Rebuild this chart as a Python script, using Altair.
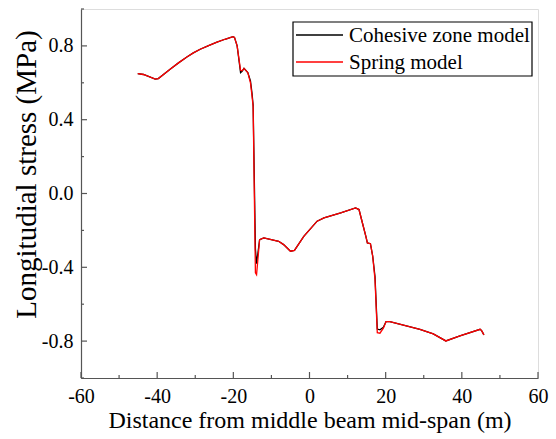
import altair as alt
import pandas as pd

# Distance from middle beam mid-span (m)
x_vals = [-45.1, -43.6, -40.5, -39.7, -36.6, -34.4, -32.2, -30.5, -28.7, -26.5,
          -24.3, -22.2, -20.1, -19.7,
          -19.0, -18.1, -17.7, -17.2, -16.2, -15.5, -15.1, -14.8, -14.2, -13.9,
          -13.1, -12.0, -8.1, -6.8, -5.0, -3.95, -1.5, 2.0, 3.8, 8.2,
          12.1, 13.0, 13.9, 14.8, 15.2, 16.0, 16.6, 17.2, 17.8, 18.5,
          19.4, 20.1, 21.1, 29.0, 32.5, 35.8, 39.5, 44.8, 45.2, 45.8]

# Longitudinal stress (MPa)
cohesive = [0.650, 0.645, 0.620, 0.623, 0.674, 0.708, 0.740, 0.762, 0.782, 0.802,
            0.820, 0.836, 0.850, 0.846,
            0.800, 0.655, 0.662, 0.678, 0.656, 0.610, 0.545, 0.480, -0.300, -0.380,
            -0.250, -0.241, -0.259, -0.277, -0.313, -0.308, -0.232, -0.150, -0.132, -0.105,
            -0.078, -0.087, -0.160, -0.232, -0.268, -0.272, -0.340, -0.450, -0.735, -0.739,
            -0.725, -0.694, -0.694, -0.736, -0.761, -0.799, -0.772, -0.736, -0.743, -0.766]

spring = [0.650, 0.645, 0.620, 0.623, 0.674, 0.708, 0.740, 0.762, 0.782, 0.802,
          0.820, 0.836, 0.850, 0.846,
          0.800, 0.668, 0.665, 0.678, 0.656, 0.600, 0.530, 0.470, -0.430, -0.440,
          -0.250, -0.241, -0.259, -0.277, -0.313, -0.308, -0.232, -0.150, -0.132, -0.105,
          -0.078, -0.087, -0.160, -0.232, -0.268, -0.272, -0.340, -0.467, -0.754, -0.757,
          -0.730, -0.694, -0.694, -0.736, -0.761, -0.799, -0.772, -0.736, -0.743, -0.766]

series_names = ["Cohesive zone model", "Spring model"]
series_colors = ["#000000", "#FF0000"]

x_major = [-60, -40, -20, 0, 20, 40, 60]
x_minor = [-50, -30, -10, 10, 30, 50]
y_major = [-0.8, -0.4, 0.0, 0.4, 0.8]
y_minor = [-1.0, -0.6, -0.2, 0.2, 0.6, 1.0]

rows = []
for i, xv in enumerate(x_vals):
    rows.append({"x": xv, "y": cohesive[i], "model": series_names[0], "order": i})
    rows.append({"x": xv, "y": spring[i], "model": series_names[1], "order": i})
df = pd.DataFrame(rows)

FONT = "Liberation Serif"
AXC = "#555555"

x_scale = alt.Scale(domain=[-60, 60], nice=False, zero=False)
y_scale = alt.Scale(domain=[-1.0, 1.0], nice=False, zero=False)

x_label_expr = "datum.value < 0 ? '-' + format(-datum.value, 'd') : format(datum.value, 'd')"
y_label_expr = "datum.value < -0.0001 ? '-' + format(-datum.value, '.1f') : format(abs(datum.value), '.1f')"

lines = alt.Chart(df).mark_line(strokeWidth=1.3, interpolate="linear").encode(
    x=alt.X("x:Q", scale=x_scale,
            axis=alt.Axis(title="Distance from middle beam mid-span (m)", values=x_major,
                          labelExpr=x_label_expr, tickSize=0, domainColor=AXC, domainWidth=1.2,
                          labelFont=FONT, labelFontSize=20, labelColor="#000000",
                          labelFlush=False, labelOverlap=False,
                          labelPadding=8, titleFont=FONT, titleFontSize=24,
                          titleFontWeight="normal", titleColor="#000000", titlePadding=2,
                          grid=False)),
    y=alt.Y("y:Q", scale=y_scale,
            axis=alt.Axis(title="Longitudial stress (MPa)", values=y_major,
                          labelExpr=y_label_expr, labelFlush=False, labelOverlap=False,
                          tickSize=0, domainColor=AXC, domainWidth=1.2,
                          labelFont=FONT, labelFontSize=20, labelColor="#000000",
                          labelPadding=8, titleFont=FONT, titleFontSize=29,
                          titleFontWeight="normal", titleColor="#000000",
                          titleX=-55, titleY=165, titleAngle=-90, titleAlign="center",
                          titleBaseline="middle", grid=False)),
    color=alt.Color("model:N", scale=alt.Scale(domain=series_names, range=series_colors),
                    legend=None),
    order="order:Q",
    detail="model:N",
)

# inward tick marks, placed through the scales
rule_style = dict(color=AXC, strokeWidth=1.2)
xt_major = alt.Chart(pd.DataFrame({"t": x_major})).mark_rule(**rule_style).encode(
    x=alt.X("t:Q", scale=x_scale), y=alt.value(369), y2=alt.value(363))
xt_minor = alt.Chart(pd.DataFrame({"t": x_minor})).mark_rule(**rule_style).encode(
    x=alt.X("t:Q", scale=x_scale), y=alt.value(369), y2=alt.value(366))
yt_major = alt.Chart(pd.DataFrame({"t": y_major})).mark_rule(**rule_style).encode(
    y=alt.Y("t:Q", scale=y_scale), x=alt.value(0), x2=alt.value(6))
yt_minor = alt.Chart(pd.DataFrame({"t": y_minor})).mark_rule(**rule_style).encode(
    y=alt.Y("t:Q", scale=y_scale), x=alt.value(0), x2=alt.value(3))

# legend box
box = alt.Chart(pd.DataFrame({"a": [0]})).mark_rect(
    fill="white", stroke="#000000", strokeWidth=1.2).encode(
    x=alt.value(212), x2=alt.value(451), y=alt.value(13), y2=alt.value(67))
legend_layers = [box]
for i, name in enumerate(series_names):
    ly = 26 + 27 * i
    d = pd.DataFrame({"model": [name]})
    legend_layers.append(
        alt.Chart(d).mark_rule(color=series_colors[i], strokeWidth=1.5).encode(
            x=alt.value(215), x2=alt.value(262), y=alt.value(ly)))
    legend_layers.append(
        alt.Chart(d).mark_text(font=FONT, fontSize=21, align="left", baseline="middle",
                               color="#000000").encode(
            x=alt.value(268), y=alt.value(ly + 1), text="model:N"))

chart = alt.layer(lines, xt_major, xt_minor, yt_major, yt_minor, *legend_layers).properties(
    width=457, height=369,
    autosize=alt.AutoSizeParams(type="none"),
    padding={"left": 81, "top": 9, "right": 18, "bottom": 61},
).configure_view(stroke=None).configure_axis(
    labelFont=FONT, titleFont=FONT
).configure(background="white")

chart.save("out.html", embed_options={"renderer": "svg", "actions": False})
